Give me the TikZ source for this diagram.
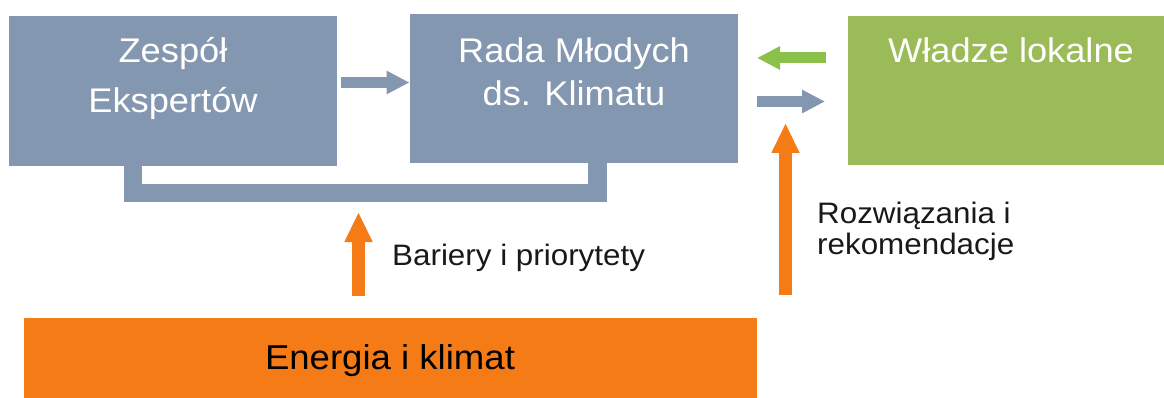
\documentclass[tikz,border=0pt]{standalone}
\usepackage{fontspec}
\setmainfont{Liberation Sans}
\newfontfamily\dfont[FakeStretch=1.06]{Liberation Sans}
\usetikzlibrary{arrows.meta}
\definecolor{slate}{HTML}{8497B0}
\definecolor{leaf}{HTML}{9BBB59}
\definecolor{lime}{HTML}{8BC14A}
\definecolor{ember}{HTML}{F47B16}
\tikzset{
  panel/.style={inner sep=0pt, outer sep=0pt, draw=none},
  bigtext/.style={text=white, inner sep=0pt, anchor=base, font=\dfont\fontsize{34.2}{38}\selectfont},
  bartext/.style={text=black, inner sep=0pt, anchor=base, font=\dfont\fontsize{34.5}{38}\selectfont},
  note/.style={text=black!90, inner sep=0pt, anchor=base west, font=\dfont\fontsize{29.6}{32}\selectfont},
  flatarrow/.style={line width=11pt, -{Triangle[length=23pt,width=22pt]}},
  uparrow/.style={ember, line width=13pt, -{Triangle[length=30pt,width=26pt]}}
}
\begin{document}
\begin{tikzpicture}[x=1pt,y=-1pt]
\useasboundingbox (0,0) rectangle (1164,398);

% boxes
\node[panel, fill=slate, minimum width=328pt, minimum height=150pt] (experts) at (173,91) {};
\node[panel, fill=slate, minimum width=328pt, minimum height=149pt] (council) at (574,88.5) {};
\node[panel, fill=leaf, minimum width=316pt, minimum height=149pt] (local) at (1006,90.5) {};
\node[panel, fill=ember, minimum width=733pt, minimum height=80pt] (energy) at (390.5,358) {};

% bracket joining the two upper boxes
\draw[slate, line width=18.5pt, line join=miter]
  (133,166) -- (133,193) -- (597.5,193) -- (597.5,163.5);

% box texts
\node[bigtext] (t1a) at (173,63) {Zespół};
\node[bigtext] (t1b) at (173,113) {Ekspertów};
\node[bigtext] (t2a) at (574,63) {Rada Młodych};
\node[bigtext] (t2b) at (574,106) {ds. Klimatu};
\node[bigtext] (t3) at (1011,63) {Władze lokalne};
\node[bartext] (t4) at (390,369) {Energia i klimat};

% labels
\node[note] (l1) at (392,265) {Bariery i priorytety};
\node[note] (l2a) at (817,223) {Rozwiązania i};
\node[note] (l2b) at (817,254) {rekomendacje};

% arrow endpoints
\coordinate (a1s) at (341,82.5);
\coordinate (a1e) at (409.5,82.5);
\coordinate (a2s) at (826,58);
\coordinate (a2e) at (757,58);
\coordinate (a3s) at (757,101.5);
\coordinate (a3e) at (825,101.5);
\coordinate (a4s) at (358.5,296);
\coordinate (a4e) at (358.5,212);
\coordinate (a5s) at (785.5,295);
\coordinate (a5e) at (785.5,123);

% arrows
\draw[flatarrow, slate] (a1s) -- (a1e);
\draw[flatarrow, lime] (a2s) -- (a2e);
\draw[flatarrow, slate] (a3s) -- (a3e);
\draw[uparrow] (a4s) -- (a4e);
\draw[uparrow] (a5s) -- (a5e);
\end{tikzpicture}
\end{document}
